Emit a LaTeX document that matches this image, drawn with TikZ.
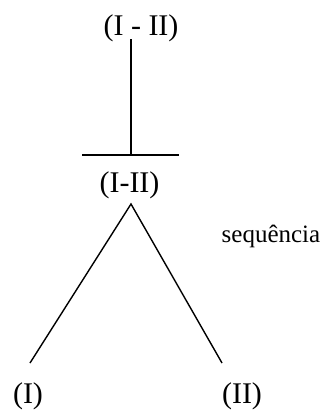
\documentclass[tikz,border=0pt]{standalone}
\usepackage{fontspec}
\setmainfont{Liberation Serif}
\begin{document}
\begin{tikzpicture}[x=1pt,y=-1pt,
  lbl/.style={inner sep=0pt,font=\fontsize{30}{36}\selectfont},
  seqlbl/.style={inner sep=0pt,font=\fontsize{25}{30}\selectfont},
  conn/.style={line width=1.4pt}]
\useasboundingbox (0,0) rectangle (326,410);
\node[lbl] (top) at (141,28) {(I - II)};
\node[lbl] (mid) at (129.5,185.5) {(I-II)};
\node[lbl] (left) at (28,396) {(I)};
\node[lbl] (right) at (242,396) {(II)};
\node[seqlbl, anchor=base] (seq) at (271,242) {sequência};
\coordinate (vtop) at (131,39);
\coordinate (barmid) at (131,155);
\coordinate (barl) at (82,155);
\coordinate (barr) at (179,155);
\coordinate (apex) at (131,204);
\coordinate (lend) at (30,363);
\coordinate (rend) at (222,363);
\draw[conn] (vtop) -- (barmid);
\draw[conn] (barl) -- (barr);
\draw[conn] (lend) -- (apex) -- (rend);
\end{tikzpicture}
\end{document}
